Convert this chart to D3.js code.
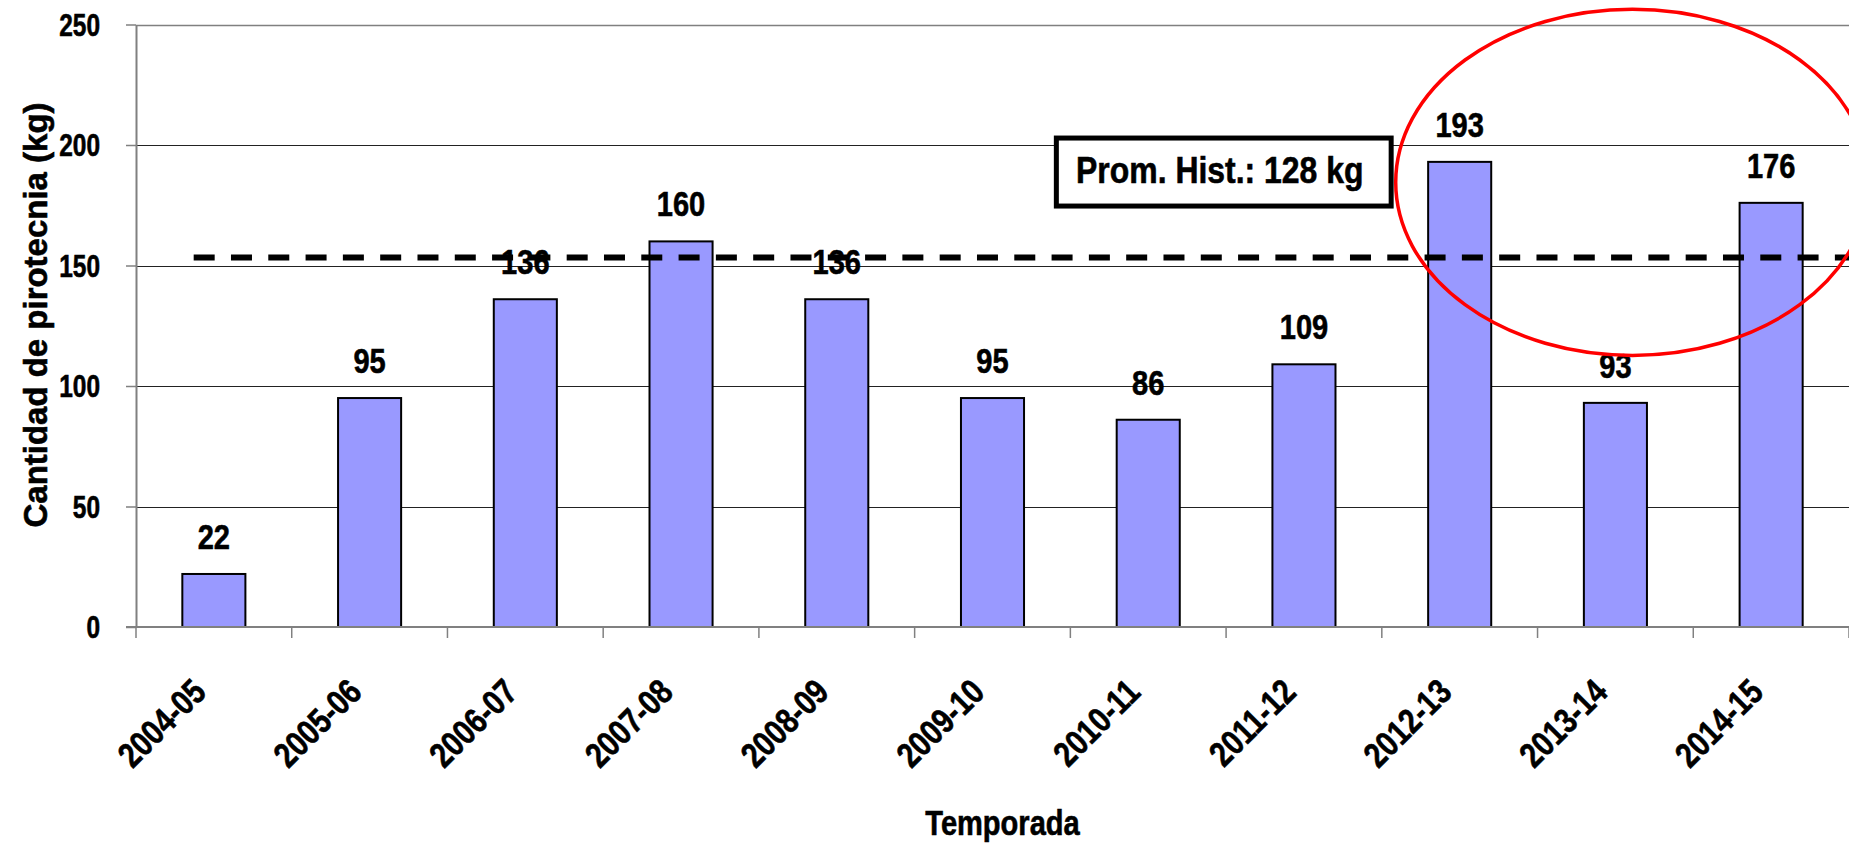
<!DOCTYPE html>
<html>
<head>
<meta charset="utf-8">
<script src="https://cdn.jsdelivr.net/npm/d3@7"></script>
<style>
  html, body { margin: 0; padding: 0; background: #fff; overflow: hidden; }
  svg { display: block; }
  text { font-family: "Liberation Sans", Arial, sans-serif; font-weight: bold; fill: #000; stroke: #000; stroke-width: 0.6px; }
</style>
</head>
<body>
<script>
// ---- data ----
const categories = ["2004-05","2005-06","2006-07","2007-08","2008-09","2009-10","2010-11","2011-12","2012-13","2013-14","2014-15"];
const values = [22, 95, 136, 160, 136, 95, 86, 109, 193, 93, 176];
const yTicks = [0, 50, 100, 150, 200, 250];
const yTitle = "Cantidad de pirotecnia (kg)";
const xTitle = "Temporada";
const avgLabel = "Prom. Hist.: 128 kg";
const avgLineValue = [153.3];          // drawn height of dashed line (in kg)
const circleCenter = [184.5];          // annotation ellipse centre (kg)
const circleRadius = [71.8];           // annotation ellipse vertical radius (kg)

// ---- layout ----
const W = 1849, H = 844;
const pL = 136, pR = 1849, pT = 24.5, pB = 627;
const NARROW = 0.83;   // horizontal condensing of the bold sans face

const svg = d3.select("body").append("svg").attr("width", W).attr("height", H);

const x = d3.scaleBand().domain(categories).range([pL, pR])
  .paddingInner(0.595).paddingOuter(0.2975);
const y = d3.scaleLinear().domain([0, 250]).range([pB, pT]);
const step = x.step();

// gridlines
svg.append("g").selectAll("line").data(yTicks.filter(d => d > 0)).join("line")
  .attr("x1", pL).attr("x2", pR)
  .attr("y1", d => Math.round(y(d)) + 0.5).attr("y2", d => Math.round(y(d)) + 0.5)
  .attr("stroke", d => d === 250 ? "#808080" : "#222").attr("stroke-width", d => d === 250 ? 1.5 : 1);

// bars
svg.append("g").selectAll("rect").data(values).join("rect")
  .attr("x", (d, i) => x(categories[i]))
  .attr("y", d => y(d))
  .attr("width", x.bandwidth())
  .attr("height", d => pB - y(d))
  .attr("fill", "#9999FF").attr("stroke", "#000").attr("stroke-width", 2);

// y axis (lines from d3.axis, labels drawn condensed)
const yAxis = svg.append("g").attr("transform", `translate(${pL},0)`)
  .call(d3.axisLeft(y).tickValues(yTicks).tickSize(10).tickSizeOuter(0));
yAxis.select(".domain").attr("stroke", "#808080").attr("stroke-width", 2);
yAxis.selectAll(".tick line").attr("stroke", "#808080").attr("stroke-width", 1.5);
yAxis.selectAll(".tick text").remove();
svg.append("g").selectAll("text").data(yTicks).join("text")
  .attr("transform", d => `translate(${pL - 36},${y(d) + 11}) scale(${NARROW * 0.95},1)`)
  .attr("text-anchor", "end").attr("font-size", 31).text(d => d);

// x axis line + boundary ticks
svg.append("line").attr("x1", pL - 10).attr("x2", pR).attr("y1", pB).attr("y2", pB)
  .attr("stroke", "#808080").attr("stroke-width", 2);
svg.append("g").selectAll("line").data(d3.range(categories.length + 1)).join("line")
  .attr("x1", i => pL + i * step).attr("x2", i => pL + i * step)
  .attr("y1", pB).attr("y2", pB + 11)
  .attr("stroke", "#808080").attr("stroke-width", 1.5);

// x tick labels
svg.append("g").selectAll("text").data(categories).join("text")
  .attr("transform", d => `translate(${x(d) + x.bandwidth() / 2 - 6},${pB + 67}) rotate(-45) scale(${NARROW},1)`)
  .attr("text-anchor", "end").attr("font-size", 35).text(d => d);

// dashed average line
svg.append("line")
  .attr("x1", x(categories[0]) + x.bandwidth() * 0.18).attr("x2", pR)
  .attr("y1", y(avgLineValue[0])).attr("y2", y(avgLineValue[0]))
  .attr("stroke", "#000").attr("stroke-width", 6).attr("stroke-dasharray", "21,16.3");

// value labels
svg.append("g").selectAll("text").data(values).join("text")
  .attr("transform", (d, i) => `translate(${x(categories[i]) + x.bandwidth() / 2},${y(d) - 25}) scale(${NARROW},1)`)
  .attr("text-anchor", "middle").attr("font-size", 35).text(d => d);

// average box
const bx = x(categories[6]) + x.bandwidth() * 0.5 - step * 0.59;
const bw = step * 2.15, bh = 68;
const byTop = y(avgLineValue[0]) - 119.5;
svg.append("rect").attr("x", bx).attr("y", byTop).attr("width", bw).attr("height", bh)
  .attr("fill", "#fff").attr("stroke", "#000").attr("stroke-width", 5);
svg.append("text")
  .attr("transform", `translate(${bx + bw / 2 - 4},${byTop + 44.5}) scale(${NARROW * 1.04},1)`)
  .attr("text-anchor", "middle").attr("font-size", 37).text(avgLabel);

// red ellipse annotation
const ex = x(categories[9]) + x.bandwidth() / 2 + 17;
svg.append("ellipse").attr("cx", ex).attr("cy", y(circleCenter[0]))
  .attr("rx", step * 1.52).attr("ry", pB - y(circleRadius[0]))
  .attr("fill", "none").attr("stroke", "#ff0000").attr("stroke-width", 3.5);

// axis titles
svg.append("text").attr("transform", `translate(47,315) rotate(-90) scale(0.97,1)`)
  .attr("text-anchor", "middle").attr("font-size", 34).text(yTitle);
svg.append("text").attr("transform", `translate(${(pL + pR) / 2 + 10},835) scale(${NARROW},1)`)
  .attr("text-anchor", "middle").attr("font-size", 35).text(xTitle);
</script>
</body>
</html>
